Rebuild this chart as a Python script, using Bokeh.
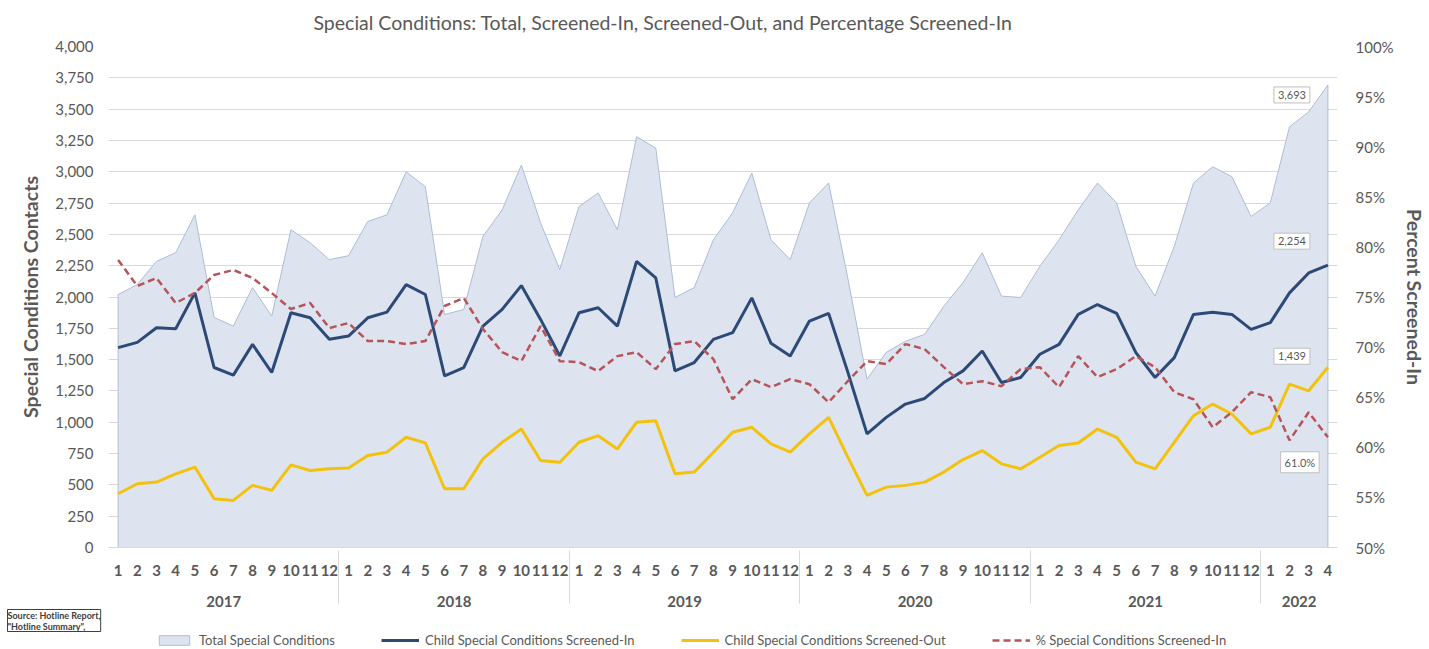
from bokeh.plotting import figure
from bokeh.layouts import column
from bokeh.models import (FactorRange, Range1d, LinearAxis, FixedTicker, NumeralTickFormatter,
                          PrintfTickFormatter, Legend, LegendItem, Title, ColumnDataSource)
from bokeh.embed import file_html
from bokeh.resources import INLINE
from bokeh.core.properties import value

# ---------------- data ----------------
years = ["2017", "2018", "2019", "2020", "2021", "2022"]
months = ["1", "2", "3", "4", "5", "6", "7", "8", "9", "10", "11", "12"]
n_months = 64
factors = [(y, m) for y in years for m in months][:n_months]

total = [2020, 2099, 2285, 2354, 2656, 1837, 1768, 2075, 1847, 2537, 2433, 2298,
         2330, 2603, 2656, 3000, 2881, 1861, 1900, 2484, 2696, 3054, 2592, 2219,
         2722, 2831, 2537, 3279, 3189, 1996, 2075, 2457, 2672, 2990, 2457, 2298,
         2751, 2910, 2150, 1344, 1558, 1646, 1702, 1927, 2115, 2354, 2007, 1996,
         2245, 2457, 2696, 2910, 2751, 2245, 2007, 2404, 2910, 3040, 2961, 2643,
         2751, 3358, 3478, 3693]

screened_in = [1596, 1638, 1755, 1747, 2033, 1437, 1376, 1622, 1397, 1874, 1834, 1662,
               1688, 1834, 1879, 2099, 2020, 1370, 1437, 1768, 1901, 2091, 1821, 1529,
               1874, 1914, 1768, 2285, 2152, 1410, 1477, 1662, 1715, 1993, 1630, 1529,
               1808, 1869, 1400, 907, 1039, 1145, 1190, 1317, 1410, 1569, 1317, 1357,
               1543, 1622, 1861, 1940, 1869, 1556, 1357, 1516, 1861, 1879, 1861, 1741,
               1795, 2033, 2192, 2254]

screened_out = [429, 509, 522, 588, 642, 390, 376, 496, 456, 660, 615, 628,
                634, 734, 761, 880, 835, 469, 469, 708, 840, 946, 694, 681,
                840, 893, 787, 1000, 1012, 588, 602, 761, 920, 960, 827, 761,
                907, 1039, 721, 416, 482, 496, 522, 602, 702, 774, 668, 628,
                721, 814, 835, 946, 880, 681, 628, 840, 1052, 1145, 1066, 907,
                960, 1304, 1251, 1439]

pct_in = [78.7, 76.1, 76.9, 74.4, 75.4, 77.2, 77.7, 76.9, 75.4, 73.8, 74.4, 71.9,
          72.4, 70.6, 70.6, 70.3, 70.6, 74.1, 74.9, 71.8, 69.5, 68.6, 72.1, 68.6,
          68.5, 67.6, 69.1, 69.5, 67.8, 70.3, 70.6, 68.8, 64.8, 66.8, 66.0, 66.8,
          66.3, 64.5, 66.6, 68.6, 68.3, 70.3, 69.8, 68.0, 66.3, 66.6, 66.1, 67.8,
          68.0, 66.0, 69.1, 67.0, 67.8, 69.1, 68.0, 65.5, 64.8, 62.0, 63.5, 65.5,
          65.0, 60.7, 63.5, 61.0]

left_ticks = list(range(0, 4001, 250))
right_ticks = list(range(50, 101, 5))

title_text = "Special Conditions: Total, Screened-In, Screened-Out, and Percentage Screened-In"
legend_labels = ["Total Special Conditions", "Child Special Conditions Screened-In",
                 "Child Special Conditions Screened-Out", "% Special Conditions Screened-In"]
source_text = "Source: Hotline Report,\n\"Hotline Summary\","

# ---------------- style ----------------
FONT = "Lato"
TXT = "#595959"
GRID = "#d9d9d9"
W = 1429
area_style = dict(fill_color="#dde4ef", line_color="#aebcd3", line_width=1)
in_style = dict(line_color="#2d4a77", line_width=3)
out_style = dict(line_color="#f2c20f", line_width=3)
pct_style = dict(line_color="#b5555a", line_width=2.5, line_dash="7 4")

x_range = FactorRange(factors=factors, factor_padding=0, group_padding=0,
                      subgroup_padding=0, range_padding=0)

p = figure(width=W, height=633, x_range=x_range, y_range=Range1d(0, 4000),
           output_backend="svg", toolbar_location=None,
           min_border_left=108, min_border_right=92, min_border_top=46, min_border_bottom=84,
           outline_line_color=None)
p.extra_y_ranges = {"pct": Range1d(50, 100)}

# area (total) as a patch built from the data
area_x = factors + [factors[-1], factors[0]]
area_y = total + [0, 0]
p.patch(area_x, area_y, **area_style)
p.line(factors, screened_in, **in_style)
p.line(factors, screened_out, **out_style)
p.line(factors, pct_in, y_range_name="pct", **pct_style)

# grid
p.xgrid.grid_line_color = None
p.ygrid.ticker = FixedTicker(ticks=left_ticks)
p.ygrid.grid_line_color = GRID
p.ygrid.grid_line_width = 1

# left axis
ya = p.yaxis[0]
ya.ticker = FixedTicker(ticks=left_ticks)
ya.formatter = NumeralTickFormatter(format="0,0")
ya.axis_line_color = None
ya.major_tick_line_color = None
ya.major_tick_out = 0
ya.major_tick_in = 0
ya.minor_tick_line_color = None
ya.minor_tick_out = 0
ya.major_label_standoff = 15
ya.major_label_text_font = FONT
ya.major_label_text_font_size = "15px"
ya.major_label_text_color = TXT
ya.axis_label = "Special Conditions Contacts"
ya.axis_label_text_font = FONT
ya.axis_label_text_font_size = "19.5px"
ya.axis_label_text_font_style = "bold"
ya.axis_label_text_color = TXT
ya.axis_label_standoff = 10

# right axis
ra = LinearAxis(y_range_name="pct", ticker=FixedTicker(ticks=right_ticks),
                formatter=PrintfTickFormatter(format="%d%%"),
                axis_label="Percent Screened-In")
ra.axis_line_color = None
ra.major_tick_line_color = None
ra.major_tick_out = 0
ra.major_tick_in = 0
ra.minor_tick_line_color = None
ra.minor_tick_out = 0
ra.major_label_standoff = 18
ra.major_label_text_font = FONT
ra.major_label_text_font_size = "15px"
ra.major_label_text_color = TXT
ra.axis_label_text_font = FONT
ra.axis_label_text_font_size = "19.5px"
ra.axis_label_text_font_style = "bold"
ra.axis_label_text_color = TXT
ra.axis_label_standoff = 6
p.add_layout(ra, "right")

# bottom categorical axis
xa = p.xaxis[0]
xa.axis_line_color = GRID
xa.major_tick_line_color = None
xa.major_tick_out = 0
xa.major_tick_in = 0
xa.minor_tick_line_color = None
xa.minor_tick_out = 0
xa.major_label_orientation = "horizontal"
xa.major_label_standoff = 17
xa.major_label_text_font = FONT
xa.major_label_text_font_size = "15px"
xa.major_label_text_font_style = "bold"
xa.major_label_text_color = TXT
xa.group_text_font = FONT
xa.group_text_font_size = "15px"
xa.group_text_font_style = "bold"
xa.group_text_color = TXT
xa.group_label_orientation = "horizontal"
xa.separator_line_color = GRID
xa.separator_line_width = 1

# title
p.title.text = title_text
p.title.text_font = FONT
p.title.text_font_size = "19.5px"
p.title.text_font_style = "normal"
p.title.text_color = TXT
p.title.align = "left"
p.title.vertical_align = "top"
p.title.offset = 205
p.title.standoff = 21

# end-point data labels (text glyphs with a box)
last = factors[-1]
lab_src = ColumnDataSource(dict(
    x=[last, last, last],
    y=[total[-1], screened_in[-1], screened_out[-1]],
    text=[f"{total[-1]:,}", f"{screened_in[-1]:,}", f"{screened_out[-1]:,}"],
    xo=[-36, -36, -36],
    yo=[10, -24, -11],
))
p.text(x="x", y="y", text="text", source=lab_src, x_offset="xo", y_offset="yo",
       text_align="center", text_baseline="middle", text_font=value(FONT),
       text_font_size="11px", text_color=TXT,
       background_fill_color="white", border_line_color="#bfbfbf", padding=4)
pct_src = ColumnDataSource(dict(x=[last], y=[pct_in[-1]], text=[f"{pct_in[-1]:.1f}%"]))
p.text(x="x", y="y", text="text", source=pct_src, y_range_name="pct",
       x_offset=-28, y_offset=25, text_align="center", text_baseline="middle",
       text_font=value(FONT), text_font_size="11px", text_color=TXT,
       background_fill_color="white", border_line_color="#bfbfbf", padding=4)

# source note (below the axis, left of the plot area)
src = Title(text=source_text, align="left", vertical_align="top", offset=-101, standoff=0,
            text_font=FONT, text_font_size="9px", text_font_style="bold",
            text_color="#404040", background_fill_color="white",
            border_line_color="#404040")
p.add_layout(src, "below")

# ---------------- legend strip ----------------
# the same series are drawn here outside the strip's visible y-range, only to key the legend
leg = figure(width=W, height=16, x_range=x_range, y_range=Range1d(-2, -1),
             output_backend="svg", toolbar_location=None, x_axis_location=None,
             y_axis_location=None, min_border=0, outline_line_color=None)
leg.grid.visible = False
k_area = leg.patch(area_x, area_y, **area_style)
k_in = leg.line(factors, screened_in, **in_style)
k_out = leg.line(factors, screened_out, **out_style)
k_pct = leg.line(factors, pct_in, **pct_style)
legend = Legend(items=[LegendItem(label=lab, renderers=[rend])
                       for lab, rend in zip(legend_labels, [k_area, k_in, k_out, k_pct])],
                location=(47, 1), orientation="horizontal", border_line_color=None,
                background_fill_alpha=0, padding=0, margin=0, spacing=46,
                glyph_width=38, glyph_height=12, label_height=14, label_standoff=6,
                label_text_font=FONT, label_text_font_size="13px", label_text_color=TXT)
leg.add_layout(legend)

layout = column(p, leg, spacing=0)
open("out.html", "w").write(file_html(layout, INLINE))
